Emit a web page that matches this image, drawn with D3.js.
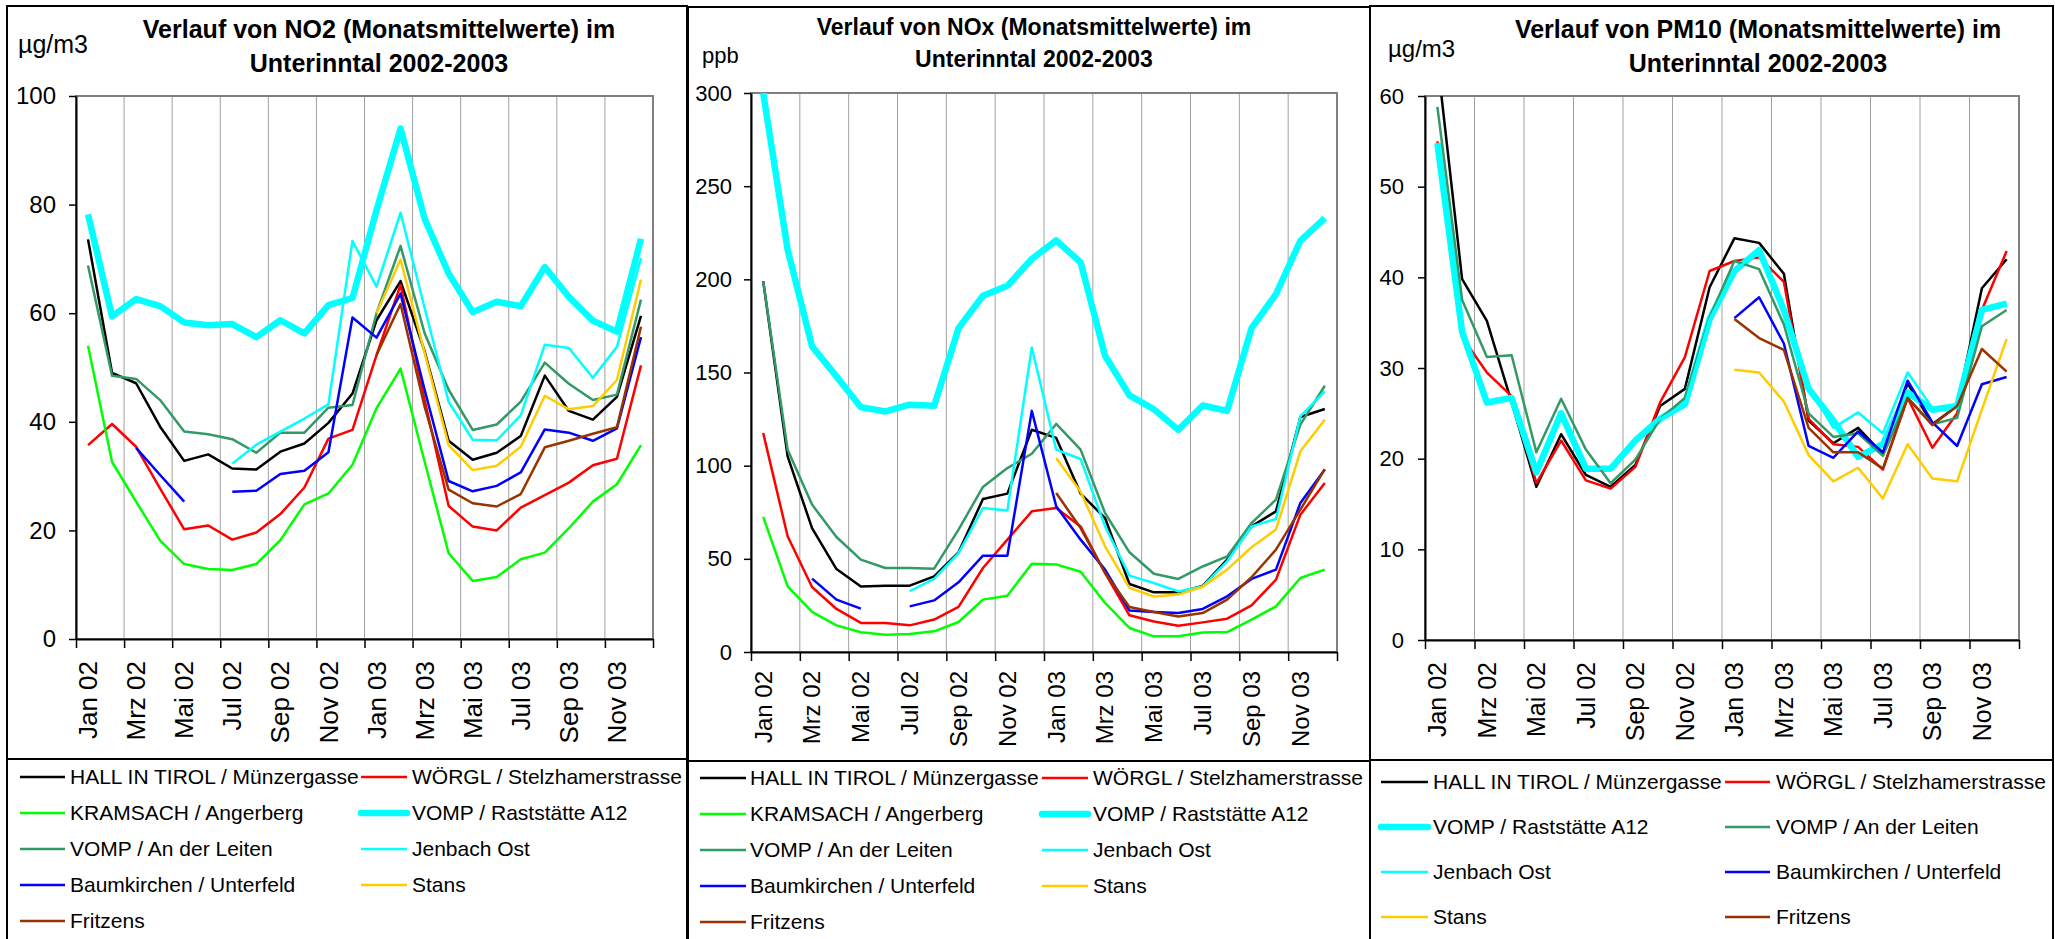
<!DOCTYPE html>
<html>
    <head>
        <title>Unterinntal 2002-2003</title>
        <script src="https://d3js.org/d3.v7.min.js"></script>
        <style>
            body { margin: 0; background: #fff; }
            svg { display: block; font-family: 'Liberation Sans', Arial, Helvetica, sans-serif; }
            .box { fill: none; stroke: #000; stroke-width: 2; }
            .grid line { stroke: #a0a0a0; stroke-width: 1; }
            .frame { fill: none; stroke: #808080; stroke-width: 2; }
            .series { fill: none; stroke-linejoin: round; }
        </style>
    </head>
    <body>
        <svg width="2055" height="939"></svg>
        <script>
            // months on the category axis
            var months = ["Jan 02","Feb 02","Mrz 02","Apr 02","Mai 02","Jun 02","Jul 02","Aug 02","Sep 02","Okt 02","Nov 02","Dez 02",
                          "Jan 03","Feb 03","Mrz 03","Apr 03","Mai 03","Jun 03","Jul 03","Aug 03","Sep 03","Okt 03","Nov 03","Dez 03"];
            var _ = null;

            // NO2 in µg/m3
            var hallNO2      = [73.6, 49.0, 47.1, 39.1, 32.8, 34.0, 31.4, 31.2, 34.5, 36.0, 39.8, 45.2, 58.7, 65.9, 53.0, 36.5, 33.0, 34.3, 37.4, 48.5, 42.0, 40.4, 44.6, 59.5];
            var woerglNO2    = [35.7, 39.6, 35.4, 27.7, 20.2, 20.9, 18.3, 19.6, 23.0, 27.9, 36.9, 38.5, 52.3, 65.2, 44.0, 24.5, 20.7, 20.0, 24.2, 26.5, 28.8, 32.0, 33.2, 50.4];
            var kramsachNO2  = [54.0, 32.6, 25.3, 18.1, 13.8, 12.9, 12.7, 13.8, 18.2, 24.8, 26.8, 32.1, 42.5, 49.8, 32.7, 15.8, 10.7, 11.4, 14.7, 15.9, 20.4, 25.3, 28.5, 35.7];
            var rastNO2      = [78.2, 59.4, 62.6, 61.3, 58.3, 57.8, 58.0, 55.6, 58.7, 56.3, 61.5, 62.8, 79.0, 94.0, 77.4, 67.3, 60.2, 62.1, 61.3, 68.5, 63.0, 58.6, 56.6, 73.7];
            var leitenNO2    = [68.8, 48.5, 47.9, 44.0, 38.2, 37.7, 36.8, 34.3, 38.0, 38.0, 42.6, 43.1, 60.0, 72.4, 56.3, 45.9, 38.5, 39.5, 43.7, 50.9, 47.0, 44.0, 45.0, 62.5];
            var jenbachNO2   = [_, _, _, _, _, _, 32.3, 35.8, 38.2, 40.6, 43.2, 73.3, 64.9, 78.5, 61.0, 43.7, 36.7, 36.6, 41.2, 54.2, 53.6, 48.1, 53.8, 70.2];
            var baumNO2      = [_, _, 35.2, 30.2, 25.3, _, 27.1, 27.3, 30.4, 31.0, 34.4, 59.2, 55.5, 63.6, 45.9, 29.1, 27.2, 28.2, 30.7, 38.6, 38.0, 36.5, 38.8, 55.6];
            var stansNO2     = [_, _, _, _, _, _, _, _, _, _, _, _, 60.0, 69.9, 52.7, 35.7, 31.1, 31.9, 35.4, 44.8, 42.3, 42.9, 47.7, 66.2];
            var fritzensNO2  = [_, _, _, _, _, _, _, _, _, _, _, _, 52.3, 61.7, 42.8, 27.5, 25.0, 24.4, 26.7, 35.3, 36.5, 37.8, 39.0, 57.5];

            // NOx in ppb
            var hallNOx      = [199, 105.0, 66.5, 44.5, 35.2, 35.6, 35.6, 40.6, 53.5, 82.1, 85.0, 119.3, 114.9, 85.0, 71.9, 36.5, 32.0, 32.0, 35.5, 49.6, 67.4, 75.5, 126.1, 130.4];
            var woerglNOx    = [117.5, 62.1, 34.9, 23.1, 15.6, 15.6, 14.3, 17.4, 24.2, 45.1, 60.3, 75.5, 77.3, 67.4, 42.4, 19.7, 16.4, 14.1, 15.9, 17.9, 25.0, 38.8, 73.7, 90.7];
            var kramsachNOx  = [72.5, 35.2, 21.5, 14.3, 10.6, 9.3, 9.7, 11.1, 16.1, 28.1, 30.2, 47.4, 47.0, 43.1, 26.3, 12.9, 8.4, 8.4, 10.5, 10.7, 17.4, 24.5, 39.7, 44.2];
            var rastNOx      = [300, 215.9, 164.0, 147.9, 131.4, 129.1, 132.7, 132.1, 173.8, 191.2, 196.5, 210.9, 220.9, 209.1, 159.0, 137.7, 130.3, 119.2, 132.3, 129.4, 173.8, 192.1, 220.7, 232.9];
            var leitenNOx    = [199, 108.6, 79.1, 61.7, 49.6, 45.1, 45.1, 44.7, 65.7, 88.6, 98.7, 106.4, 122.4, 108.6, 74.6, 53.5, 42.0, 39.2, 45.9, 51.3, 69.2, 81.8, 122.0, 142.9];
            var jenbachNOx   = [_, _, _, _, _, _, 32.6, 39.2, 53.1, 77.3, 76.0, 163.4, 108.6, 103.6, 67.4, 41.0, 37.0, 32.5, 35.2, 48.7, 67.4, 71.4, 126.5, 139.9];
            var baumNOx      = [_, _, 39.4, 28.1, 23.3, _, 24.5, 27.7, 37.4, 51.7, 51.7, 129.4, 78.2, 60.3, 44.2, 22.3, 21.5, 20.9, 23.1, 29.9, 39.2, 44.2, 80.0, 97.9];
            var stansNOx     = [_, _, _, _, _, _, _, _, _, _, _, _, 104.1, 86.0, 56.7, 34.4, 29.8, 30.8, 35.0, 44.2, 56.2, 65.7, 107.7, 124.7];
            var fritzensNOx  = [_, _, _, _, _, _, _, _, _, _, _, _, 85.3, 66.5, 42.4, 24.2, 21.5, 19.1, 20.9, 28.1, 40.1, 54.9, 76.4, 98.2];

            // PM10 in µg/m3
            var hallPM10     = [64.0, 39.8, 35.2, 26.2, 16.9, 22.7, 18.2, 16.9, 19.3, 25.8, 27.7, 38.9, 44.3, 43.8, 40.4, 24.2, 21.7, 23.4, 20.5, 28.3, 23.8, 25.8, 38.8, 42.0];
            var woerglPM10   = [55.0, 33.4, 29.5, 26.9, 17.3, 22.0, 17.6, 16.7, 19.1, 26.2, 31.2, 40.7, 41.8, 42.2, 39.5, 24.4, 21.6, 21.3, 18.8, 26.7, 21.2, 25.0, 36.4, 42.9];
            var rastPM10     = [54.8, 34.0, 26.2, 26.7, 18.5, 25.0, 18.9, 18.9, 22.0, 24.4, 26.0, 35.4, 40.7, 43.0, 36.4, 27.7, 24.2, 20.2, 21.6, 27.3, 25.4, 25.8, 36.4, 37.1];
            var leitenPM10   = [58.8, 37.5, 31.2, 31.4, 20.7, 26.6, 21.0, 17.3, 19.9, 24.4, 26.7, 35.6, 41.8, 40.9, 34.8, 25.0, 22.4, 22.8, 20.3, 26.7, 23.8, 24.5, 34.6, 36.4];
            var jenbachPM10  = [54.8, 34.0, 26.2, 26.7, 18.5, 25.0, 18.9, 18.9, 22.0, 24.4, 26.0, 35.4, 40.7, 43.0, 36.4, 27.9, 23.4, 25.1, 22.8, 29.5, 25.6, 25.8, 36.4, 37.1];
            var baumPM10     = [_, _, _, _, _, _, _, _, _, _, _, _, 35.5, 37.8, 32.7, 21.4, 20.1, 23.0, 20.7, 28.6, 24.0, 21.4, 28.2, 29.0];
            var stansPM10    = [_, _, _, _, _, _, _, _, _, _, _, _, 29.8, 29.5, 26.3, 20.4, 17.5, 19.0, 15.6, 21.6, 17.8, 17.5, 25.4, 33.2];
            var fritzensPM10 = [_, _, _, _, _, _, _, _, _, _, _, _, 35.4, 33.3, 32.0, 23.4, 20.7, 20.7, 18.9, 26.7, 23.7, 25.8, 32.1, 29.6];

            var titles = [
                ["Verlauf von NO2 (Monatsmittelwerte) im", "Unterinntal 2002-2003"],
                ["Verlauf von NOx (Monatsmittelwerte) im", "Unterinntal 2002-2003"],
                ["Verlauf von PM10 (Monatsmittelwerte) im", "Unterinntal 2002-2003"]
            ];
            var units = ["µg/m3", "ppb", "µg/m3"];
            var yTicks = [[0, 20, 40, 60, 80, 100], [0, 50, 100, 150, 200, 250, 300], [0, 10, 20, 30, 40, 50, 60]];

            var stations = {
                hall:     {name: "HALL IN TIROL / Münzergasse", color: "#000000", width: 2.5},
                woergl:   {name: "WÖRGL / Stelzhamerstrasse",   color: "#ff0000", width: 2.5},
                kramsach: {name: "KRAMSACH / Angerberg",        color: "#00ff00", width: 2.5},
                rast:     {name: "VOMP / Raststätte A12",       color: "#00ffff", width: 6.5},
                leiten:   {name: "VOMP / An der Leiten",        color: "#339966", width: 2.5},
                jenbach:  {name: "Jenbach Ost",                 color: "#00ffff", width: 2.5},
                baum:     {name: "Baumkirchen / Unterfeld",     color: "#0000ff", width: 2.5},
                stans:    {name: "Stans",                       color: "#ffcc00", width: 2.5},
                fritzens: {name: "Fritzens",                    color: "#993300", width: 2.5}
            };

            var panels = [
                {id: 0, box: [7, 6, 687], legendTop: 759, left: 76, right: 653, top: 96, bottom: 639, max: 100,
                 titleX: 379, titleY: [38, 72], titleFont: 25, unitX: 18, unitY: 53, unitFont: 25,
                 yFont: 24, yPad: 13, xFont: 26, xGap: 22,
                 legRow0: 777, legRowStep: 36, legCols: [[20, 65, 70], [361, 407, 412]],
                 series: [["hall", hallNO2], ["woergl", woerglNO2], ["kramsach", kramsachNO2], ["rast", rastNO2], ["leiten", leitenNO2],
                          ["jenbach", jenbachNO2], ["baum", baumNO2], ["stans", stansNO2], ["fritzens", fritzensNO2]]},
                {id: 1, box: [688, 7, 1370], legendTop: 761, left: 751, right: 1337, top: 93, bottom: 652, max: 300,
                 titleX: 1034, titleY: [35, 67], titleFont: 23, unitX: 702, unitY: 63, unitFont: 22,
                 yFont: 22, yPad: 12, xFont: 24, xGap: 19,
                 legRow0: 778, legRowStep: 36, legCols: [[700, 746, 750], [1042, 1088, 1093]],
                 series: [["hall", hallNOx], ["woergl", woerglNOx], ["kramsach", kramsachNOx], ["rast", rastNOx], ["leiten", leitenNOx],
                          ["jenbach", jenbachNOx], ["baum", baumNOx], ["stans", stansNOx], ["fritzens", fritzensNOx]]},
                {id: 2, box: [1370, 6, 2053], legendTop: 760, left: 1425, right: 2019, top: 96, bottom: 640, max: 60,
                 titleX: 1758, titleY: [38, 72], titleFont: 25, unitX: 1388, unitY: 57, unitFont: 24,
                 yFont: 22, yPad: 14, xFont: 25, xGap: 22,
                 legRow0: 782, legRowStep: 45, legCols: [[1381, 1428, 1433], [1725, 1770, 1776]],
                 series: [["hall", hallPM10], ["woergl", woerglPM10], ["rast", rastPM10], ["leiten", leitenPM10],
                          ["jenbach", jenbachPM10], ["baum", baumPM10], ["stans", stansPM10], ["fritzens", fritzensPM10]]}
            ];

            var svg = d3.select("svg");

            function drawPanel(p) {
                var g = svg.append("g");
                var x = d3.scaleBand().domain(months).range([p.left, p.right]);
                var xi = d3.scaleLinear().domain([0, months.length]).range([p.left, p.right]);
                var y = d3.scaleLinear().domain([0, p.max]).range([p.bottom, p.top]);

                // chart box and legend box
                g.append("rect").attr("class", "box")
                    .attr("x", p.box[0]).attr("y", p.box[1])
                    .attr("width", p.box[2] - p.box[0]).attr("height", p.legendTop - p.box[1]);
                g.append("rect").attr("class", "box")
                    .attr("x", p.box[0]).attr("y", p.legendTop)
                    .attr("width", p.box[2] - p.box[0]).attr("height", 200);

                // title + unit
                var title = g.append("text").attr("text-anchor", "middle")
                    .style("font-weight", "bold").style("font-size", p.titleFont + "px");
                titles[p.id].forEach(function(t, k) {
                    title.append("tspan").attr("x", p.titleX).attr("y", p.titleY[k]).text(t);
                });
                g.append("text").attr("x", p.unitX).attr("y", p.unitY)
                    .style("font-size", p.unitFont + "px").text(units[p.id]);

                // vertical gridlines every two months
                g.append("g").attr("class", "grid").selectAll("line")
                    .data(d3.range(2, months.length, 2))
                    .join("line")
                    .attr("x1", d => xi(d)).attr("x2", d => xi(d))
                    .attr("y1", p.top).attr("y2", p.bottom);

                g.append("rect").attr("class", "frame")
                    .attr("x", p.left).attr("y", p.top)
                    .attr("width", p.right - p.left).attr("height", p.bottom - p.top);

                // clip lines to the plot area
                svg.append("clipPath").attr("id", "clip" + p.id)
                    .append("rect").attr("x", p.left).attr("y", p.top)
                    .attr("width", p.right - p.left).attr("height", p.bottom - p.top);

                var line = d3.line()
                    .defined(d => d != null)
                    .x((d, i) => x(months[i]) + x.bandwidth() / 2)
                    .y(d => y(d));

                g.append("g").attr("clip-path", "url(#clip" + p.id + ")")
                    .selectAll("path")
                    .data(p.series)
                    .join("path")
                    .attr("class", "series")
                    .attr("d", d => line(d[1]))
                    .attr("stroke", d => stations[d[0]].color)
                    .attr("stroke-width", d => stations[d[0]].width);

                // y axis
                var yAxis = g.append("g")
                    .attr("transform", "translate(" + p.left + ",0)")
                    .call(d3.axisLeft(y).tickValues(yTicks[p.id]).tickSize(7).tickSizeOuter(0).tickPadding(p.yPad));
                yAxis.select(".domain").attr("stroke", "#000").attr("stroke-width", 2);
                yAxis.selectAll(".tick line").attr("stroke", "#000").attr("stroke-width", 1.5);
                yAxis.selectAll("text").attr("fill", "#000")
                    .style("font-size", p.yFont + "px").style("font-family", null);

                // x axis: tick marks between every second month
                var xMarks = g.append("g")
                    .attr("transform", "translate(0," + p.bottom + ")")
                    .call(d3.axisBottom(xi).tickValues(d3.range(0, months.length + 1, 2)).tickSize(9).tickSizeOuter(0).tickFormat(""));
                xMarks.select(".domain").attr("stroke", "#000").attr("stroke-width", 2);
                xMarks.selectAll(".tick line").attr("stroke", "#000").attr("stroke-width", 1.5);

                // x axis labels, rotated
                var xLab = g.append("g")
                    .attr("transform", "translate(0," + p.bottom + ")")
                    .call(d3.axisBottom(x).tickValues(months.filter((d, i) => i % 2 == 0)).tickSize(0));
                xLab.select(".domain").remove();
                xLab.selectAll("text")
                    .attr("transform", "rotate(-90)")
                    .attr("x", -p.xGap).attr("y", 0).attr("dy", "0.35em")
                    .attr("fill", "#000")
                    .style("text-anchor", "end")
                    .style("font-size", p.xFont + "px").style("font-family", null);

                // legend, two columns
                var leg = g.append("g");
                p.series.forEach(function(s, k) {
                    var st = stations[s[0]];
                    var col = p.legCols[k % 2];
                    var cy = p.legRow0 + Math.floor(k / 2) * p.legRowStep;
                    leg.append("line")
                        .attr("x1", col[0]).attr("x2", col[1]).attr("y1", cy).attr("y2", cy)
                        .attr("stroke", st.color).attr("stroke-width", st.width)
                        .attr("stroke-linecap", st.width > 3 ? "round" : "butt");
                    leg.append("text")
                        .attr("x", col[2]).attr("y", cy).attr("dy", "0.35em")
                        .style("font-size", "21px").text(st.name);
                });
            }

            panels.forEach(drawPanel);
        </script>
    </body>
</html>
